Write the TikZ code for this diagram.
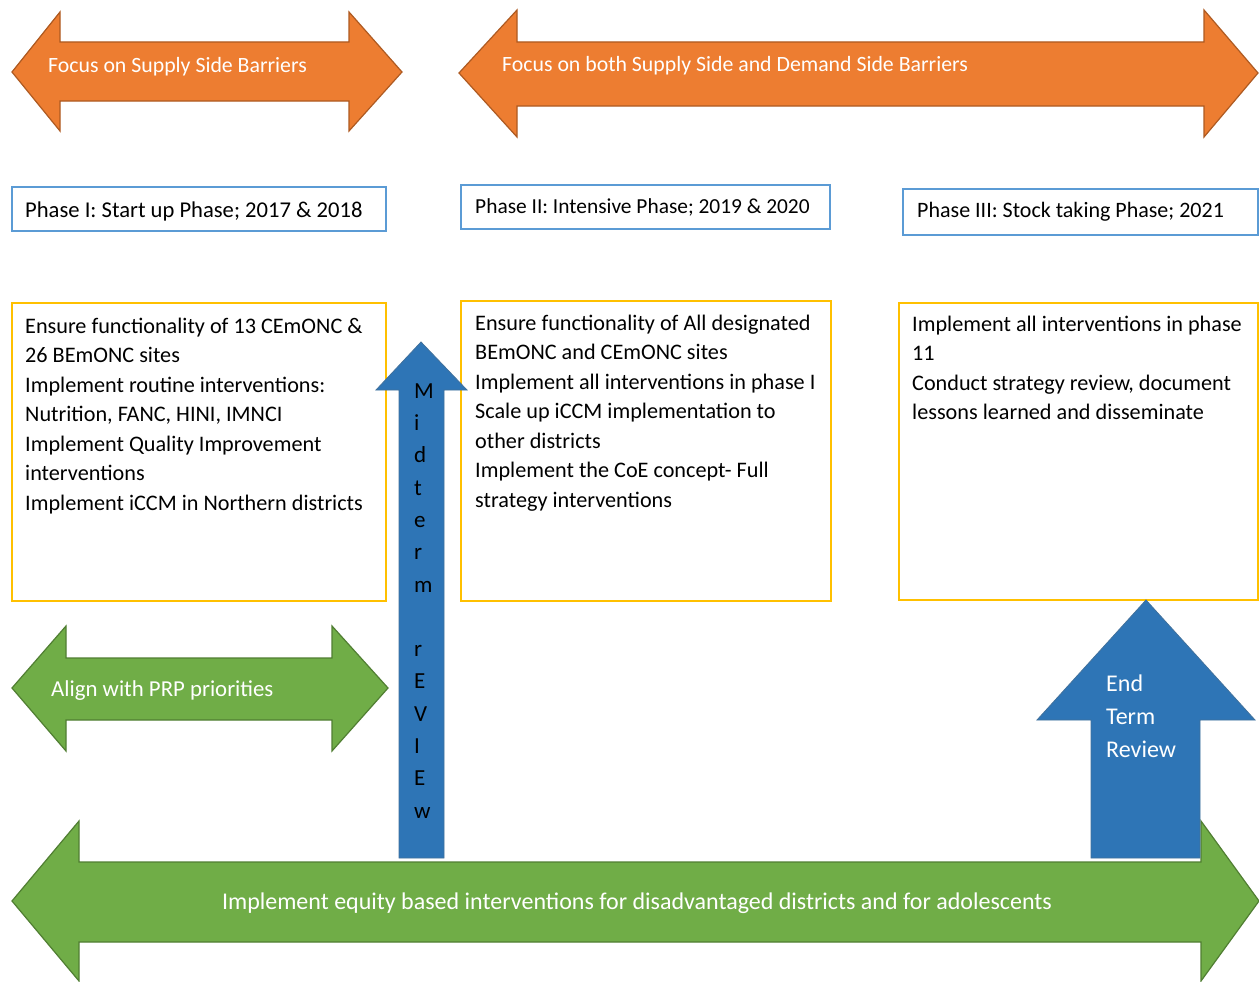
\documentclass[tikz,border=0pt]{standalone}
\usepackage{fontspec}
\setmainfont{Carlito}
\definecolor{orangeF}{HTML}{ED7D31}
\definecolor{orangeD}{HTML}{AE5A21}
\definecolor{greenF}{HTML}{70AD47}
\definecolor{greenD}{HTML}{507E32}
\definecolor{blueF}{HTML}{2E75B6}
\definecolor{blueD}{HTML}{41719C}
\definecolor{phaseB}{HTML}{5B9BD5}
\definecolor{yellowB}{HTML}{FFC000}
\tikzset{
  orangearrow/.style={fill=orangeF,draw=orangeD,line width=1.2pt,line join=miter},
  greenarrow/.style={fill=greenF,draw=greenD,line width=1.2pt,line join=miter},
  bluearrow/.style={fill=blueF,draw=blueD,line width=0.8pt,line join=miter},
  phasebox/.style={draw=phaseB,line width=2pt,fill=white},
  contentbox/.style={draw=yellowB,line width=2pt,fill=white},
  whitetext/.style={text=white,inner sep=0pt,font=\fontsize{21.8}{25}\selectfont},
  phasetext/.style={text=black,inner sep=0pt,font=\fontsize{22}{25}\selectfont,anchor=base west},
  blacktext/.style={text=black,inner sep=0pt,font=\fontsize{22.2}{29.5}\selectfont,align=left,anchor=north west},
}
\begin{document}
\begin{tikzpicture}[x=1pt,y=-1pt]
\useasboundingbox (0,0) rectangle (1259,982);
\fill[white] (0,0) rectangle (1259,982);

% orange arrows
\draw[orangearrow] (12,72) -- (60,12) -- (60,42) -- (349,42) -- (349,12) -- (402,72) -- (349,131) -- (349,101) -- (60,101) -- (60,131) -- cycle;
\node[whitetext,anchor=base west] (focus1) at (48,73) {Focus on Supply Side Barriers};

\draw[orangearrow] (459,73) -- (517,10) -- (517,42) -- (1204,42) -- (1204,10) -- (1258,73) -- (1204,137) -- (1204,106) -- (517,106) -- (517,137) -- cycle;
\node[whitetext,anchor=base west] (focus2) at (502,72) {Focus on both Supply Side and Demand Side Barriers};

% phase boxes
\draw[phasebox] (12,187) rectangle (386,231);
\node[phasetext,font=\fontsize{22.6}{25}\selectfont] (ph1) at (25,217) {Phase I: Start up Phase; 2017 \& 2018};
\draw[phasebox] (461,185) rectangle (830,229);
\node[phasetext,font=\fontsize{21.4}{25}\selectfont] (ph2) at (475,213) {Phase II: Intensive Phase; 2019 \& 2020};
\draw[phasebox] (903,189) rectangle (1258,235);
\node[phasetext] (ph3) at (917,217) {Phase III: Stock taking Phase; 2021};

% content boxes
\draw[contentbox] (12,303) rectangle (386,601);
\node[blacktext] (c1) at (25,312.35) {\strut Ensure functionality of 13 CEmONC \& \\
26 BEmONC sites\\
Implement routine interventions:\\
Nutrition, FANC, HINI, IMNCI\\
Implement Quality Improvement\\
interventions\\
Implement iCCM in Northern districts};

\draw[contentbox] (461,301) rectangle (831,601);
\node[blacktext] (c2) at (475,309.35) {\strut Ensure functionality of All designated\\
BEmONC and CEmONC sites\\
Implement all interventions in phase I\\
Scale up iCCM implementation to\\
other districts\\
Implement the CoE concept- Full\\
strategy interventions};

\draw[contentbox] (899,303) rectangle (1258,600);
\node[blacktext] (c3) at (912,310.35) {\strut Implement all interventions in phase\\
11\\
Conduct strategy review, document\\
lessons learned and disseminate};

% green arrows
\draw[greenarrow] (12,688) -- (66,626) -- (66,658) -- (332,658) -- (332,626) -- (388,688) -- (332,751) -- (332,720) -- (66,720) -- (66,751) -- cycle;
\node[whitetext,anchor=base west,font=\fontsize{22.8}{25}\selectfont] (align) at (51,696) {Align with PRP priorities};

\draw[greenarrow] (12,901) -- (79,821) -- (79,862) -- (1201,862) -- (1201,821) -- (1259,901) -- (1201,981) -- (1201,942) -- (79,942) -- (79,981) -- cycle;
\node[whitetext,anchor=base,font=\fontsize{24}{25}\selectfont] (equity) at (637,909) {Implement equity based interventions for disadvantaged districts and for adolescents};

% blue arrows
\draw[bluearrow] (421,342) -- (467,390) -- (444,390) -- (444,858) -- (399,858) -- (399,390) -- (376,390) -- cycle;
\node[text=black,inner sep=0pt,font=\fontsize{23}{32.3}\selectfont,align=left,anchor=north west] (mid) at (414,375.4) {\strut M\\i\\d\\t\\e\\r\\m\\\strut\\r\\E\\V\\I\\E\\w};

\draw[bluearrow] (1146,600) -- (1255,720) -- (1200,720) -- (1200,858) -- (1091,858) -- (1091,720) -- (1037,720) -- cycle;
\node[text=white,inner sep=0pt,font=\fontsize{24}{33}\selectfont,align=left,anchor=north west] (endterm) at (1106,667.9) {\strut End\\Term\\Review};
\end{tikzpicture}
\end{document}
